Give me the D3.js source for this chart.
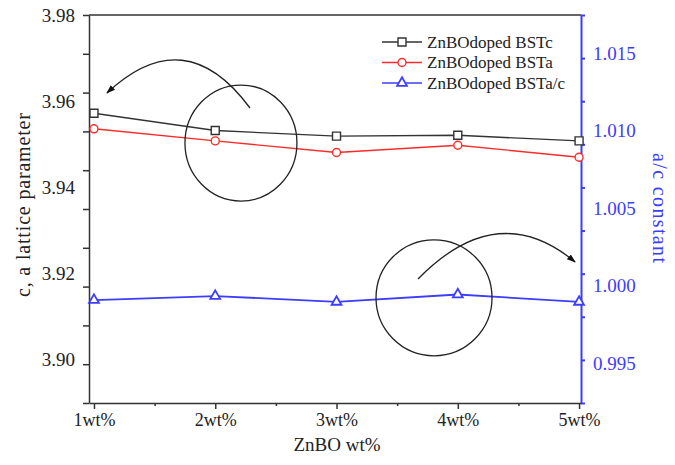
<!DOCTYPE html>
<html>
<head>
<meta charset="utf-8">
<script src="https://cdn.jsdelivr.net/npm/d3@7"></script>
<style>
  body { margin: 0; background: #fff; }
</style>
</head>
<body>
<svg id="chart" width="675" height="465"></svg>
<script>
// data
var categories = ['1wt%', '2wt%', '3wt%', '4wt%', '5wt%'];
var xIndex = [1, 2, 3, 4, 5];
var cValues = [3.9572, 3.9532, 3.9519, 3.9521, 3.9508];
var aValues = [3.9536, 3.9508, 3.9481, 3.9498, 3.9470];
var acValues = [0.99906, 0.99932, 0.99894, 0.99942, 0.99894];
var leftTicks = [3.90, 3.92, 3.94, 3.96, 3.98];
var rightTicks = [0.995, 1.000, 1.005, 1.010, 1.015];
var legendLabels = ['ZnBOdoped BSTc', 'ZnBOdoped BSTa', 'ZnBOdoped BSTa/c'];

// hand drawn notes, in data units (x index, left axis value)
var noteCircles = [[2.212, 3.9503, 56, 58], [3.804, 3.9144, 58, 58]];
var noteArrows = [
  [[2.2866, 3.95843], [1.7505, 3.97884], [1.1072, 3.96191]],
  [[3.672, 3.91876], [4.328, 3.93767], [4.967, 3.92271]]
];

var serif = '"Liberation Serif", "Times New Roman", Times, serif';
var svg = d3.select('#chart');
var frame = { left: 89, right: 581, top: 15, bottom: 403 };

var x = d3.scaleLinear().domain([0.959, 5.016]).range([frame.left, frame.right]);
var yL = d3.scaleLinear().domain([3.89, 3.98]).range([frame.bottom, frame.top]);
var yR = d3.scaleLinear().domain([0.99242, 1.01745]).range([frame.bottom, frame.top]);

var dark = '#333';
var blue = '#3d3dff';

// top frame line
svg.append('line')
  .attr('x1', frame.left).attr('x2', frame.right)
  .attr('y1', frame.top).attr('y2', frame.top)
  .attr('stroke', dark).attr('stroke-width', 1.5);

// left axis: ticks split the axis in 10, labels sit on their own values
var lTickVals = d3.range(11).map(function (i) { return 3.89 + i * 0.009; });
var gl = svg.append('g').attr('transform', 'translate(' + frame.left + ',0)');
gl.call(d3.axisLeft(yL).tickValues(lTickVals).tickFormat('').tickSize(6).tickSizeOuter(0));
gl.append('g').call(d3.axisLeft(yL).tickValues(leftTicks).tickFormat(d3.format('.2f')).tickSize(0).tickPadding(14));
gl.selectAll('path, line').attr('stroke', dark).attr('stroke-width', 1.5);
gl.selectAll('g g path').remove();
gl.selectAll('text').attr('fill', '#222').style('font-family', serif).style('font-size', '19px');

// right axis
var rTickVals = d3.range(10).map(function (i) { return 0.99242 + i * (1.01745 - 0.99242) / 9; });
var gr = svg.append('g').attr('transform', 'translate(' + frame.right + ',0)');
gr.call(d3.axisRight(yR).tickValues(rTickVals).tickFormat('').tickSize(4).tickSizeOuter(0));
gr.append('g').call(d3.axisRight(yR).tickValues(rightTicks).tickFormat(d3.format('.3f')).tickSize(0).tickPadding(12));
gr.selectAll('path, line').attr('stroke', blue).attr('stroke-width', 2);
gr.selectAll('g g path').remove();
gr.selectAll('text').attr('fill', blue).style('font-family', serif).style('font-size', '19px');

// bottom axis
var gb = svg.append('g').attr('transform', 'translate(0,' + frame.bottom + ')');
gb.call(d3.axisBottom(x).tickValues([1.5, 2.5, 3.5, 4.5]).tickFormat('').tickSize(3).tickSizeOuter(0));
gb.append('g').call(d3.axisBottom(x).tickValues(xIndex)
  .tickFormat(function (d, i) { return categories[i]; }).tickSize(6).tickPadding(4));
gb.selectAll('path, line').attr('stroke', dark).attr('stroke-width', 1.5);
gb.selectAll('g g path').remove();
gb.selectAll('text').attr('fill', '#222').style('font-family', serif).style('font-size', '18px');

// axis titles
svg.append('text')
  .attr('transform', 'translate(30,205) rotate(-90)')
  .attr('text-anchor', 'middle')
  .attr('textLength', 184).attr('lengthAdjust', 'spacing')
  .style('font-family', serif).style('font-size', '20px').attr('fill', '#222')
  .text('c, a lattice parameter');
svg.append('text')
  .attr('transform', 'translate(653,208) rotate(90)')
  .attr('text-anchor', 'middle')
  .attr('textLength', 110).attr('lengthAdjust', 'spacing')
  .style('font-family', serif).style('font-size', '20px').attr('fill', blue)
  .text('a/c constant');
svg.append('text')
  .attr('x', 337).attr('y', 451)
  .attr('text-anchor', 'middle')
  .style('font-family', serif).style('font-size', '19px').attr('fill', '#222')
  .text('ZnBO wt%');

// series
var series = [
  { name: legendLabels[0], vals: cValues, y: yL, color: '#333', shape: 'square' },
  { name: legendLabels[1], vals: aValues, y: yL, color: '#ff2a2a', shape: 'circle' },
  { name: legendLabels[2], vals: acValues, y: yR, color: blue, shape: 'triangle' }
];

function marker(sel, shape, color) {
  var sym = { square: d3.symbolSquare, circle: d3.symbolCircle, triangle: d3.symbolTriangle }[shape];
  var size = { square: 64, circle: 50, triangle: 42 }[shape];
  sel.append('path')
    .attr('d', d3.symbol().type(sym).size(size))
    .attr('fill', '#fff')
    .attr('stroke', color)
    .attr('stroke-width', shape === 'triangle' ? 1.8 : 1.4);
}

series.forEach(function (s) {
  var line = d3.line()
    .x(function (d, i) { return x(xIndex[i]); })
    .y(function (d) { return s.y(d); });
  svg.append('path')
    .datum(s.vals)
    .attr('d', line)
    .attr('fill', 'none')
    .attr('stroke', s.color)
    .attr('stroke-width', s.shape === 'triangle' ? 1.8 : 1.4);
  svg.selectAll('.nothing')
    .data(s.vals)
    .enter().append('g')
    .attr('transform', function (d, i) { return 'translate(' + x(xIndex[i]) + ',' + s.y(d) + ')'; })
    .each(function () { marker(d3.select(this), s.shape, s.color); });
});

// legend
var lg = svg.append('g').attr('transform', 'translate(382,42)');
series.forEach(function (s, i) {
  var row = lg.append('g').attr('transform', 'translate(0,' + (i * 20.5) + ')');
  row.append('line').attr('x1', 0).attr('x2', 40)
    .attr('stroke', s.color).attr('stroke-width', 1.5);
  marker(row.append('g').attr('transform', 'translate(20,0)'), s.shape, s.color);
  row.append('text')
    .attr('x', 45).attr('dy', '0.35em')
    .style('font-family', serif).style('font-size', '17px').attr('fill', '#222')
    .text(s.name);
});

// notes: circles and curved arrows
svg.append('defs').append('marker')
  .attr('id', 'head')
  .attr('viewBox', '0 0 10 10')
  .attr('refX', 9).attr('refY', 5)
  .attr('markerWidth', 9).attr('markerHeight', 9)
  .attr('markerUnits', 'userSpaceOnUse')
  .attr('orient', 'auto')
  .append('path').attr('d', 'M0,1.5 L10,5 L0,8.5 z').attr('fill', '#111');

noteCircles.forEach(function (c) {
  svg.append('ellipse')
    .attr('cx', x(c[0])).attr('cy', yL(c[1]))
    .attr('rx', c[2]).attr('ry', c[3])
    .attr('fill', 'none').attr('stroke', '#222').attr('stroke-width', 1.3);
});
noteArrows.forEach(function (a) {
  var p = d3.path();
  p.moveTo(x(a[0][0]), yL(a[0][1]));
  p.quadraticCurveTo(x(a[1][0]), yL(a[1][1]), x(a[2][0]), yL(a[2][1]));
  svg.append('path')
    .attr('d', p.toString())
    .attr('fill', 'none').attr('stroke', '#222').attr('stroke-width', 1.3)
    .attr('marker-end', 'url(#head)');
});
</script>
</body>
</html>
